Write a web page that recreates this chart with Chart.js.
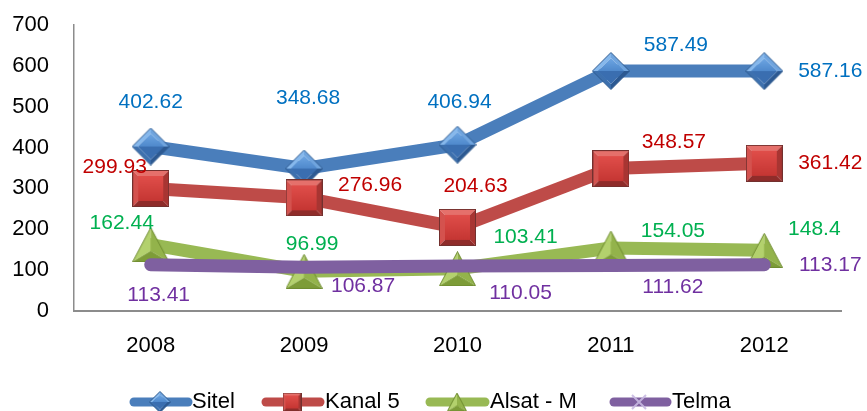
<!DOCTYPE html>
<html>
<head>
<meta charset="utf-8">
<style>
  html, body { margin: 0; padding: 0; background: #fff; }
  #wrap { width: 867px; height: 411px; }
</style>
<script src="https://cdn.jsdelivr.net/npm/chart.js@4/dist/chart.umd.min.js"></script>
</head>
<body>
<div id="wrap"><canvas id="chart" width="867" height="411"></canvas></div>
<script>
// data
const years = ['2008', '2009', '2010', '2011', '2012'];
const sitel = [402.62, 348.68, 406.94, 587.49, 587.16];
const kanal5 = [299.93, 276.96, 204.63, 348.57, 361.42];
const alsat = [162.44, 96.99, 103.41, 154.05, 148.4];
const telma = [113.41, 106.87, 110.05, 111.62, 113.17];
const seriesNames = ['Sitel', 'Kanal 5', 'Alsat - M', 'Telma'];
const yMin = 0, yMax = 700, yStep = 100;

const FONT = "'Liberation Sans', Arial, sans-serif";

// little helpers for the bevelled markers
function poly(g, pts, fill) {
  g.beginPath();
  g.moveTo(pts[0][0], pts[0][1]);
  for (let i = 1; i < pts.length; i++) g.lineTo(pts[i][0], pts[i][1]);
  g.closePath();
  g.fillStyle = fill;
  g.fill();
}

function makeDiamond(w, hgt) {
  const c = document.createElement('canvas');
  c.width = w; c.height = hgt;
  const g = c.getContext('2d');
  const cx = w / 2, cy = hgt / 2, b = w * 0.16, bv = hgt * 0.16;
  const T = [cx, 0.5], R = [w - 0.5, cy], B = [cx, hgt - 0.5], L = [0.5, cy];
  const t = [cx, bv], r = [w - b, cy], bb = [cx, hgt - bv], l = [b, cy];
  poly(g, [T, L, l, t], '#86b8ec');
  poly(g, [T, R, r, t], '#6fa4de');
  poly(g, [L, B, bb, l], '#3d70ae');
  poly(g, [R, B, bb, r], '#2c5992');
  const grd = g.createLinearGradient(0, bv, 0, cy);
  grd.addColorStop(0, '#6ea6e3');
  grd.addColorStop(1, '#4f89cc');
  poly(g, [t, r, l], grd);
  poly(g, [l, r, bb], '#3a6eb0');
  g.beginPath();
  g.moveTo(T[0], T[1]); g.lineTo(R[0], R[1]); g.lineTo(B[0], B[1]); g.lineTo(L[0], L[1]); g.closePath();
  g.strokeStyle = '#2f5b8f'; g.lineWidth = 1; g.stroke();
  return c;
}

function makeSquare(s) {
  const c = document.createElement('canvas');
  c.width = s; c.height = s;
  const g = c.getContext('2d');
  const b = Math.round(s * 0.17);
  poly(g, [[0, 0], [s, 0], [s - b, b], [b, b]], '#e5706b');
  poly(g, [[0, 0], [b, b], [b, s - b], [0, s]], '#d4524e');
  poly(g, [[s, 0], [s, s], [s - b, s - b], [s - b, b]], '#a83532');
  poly(g, [[0, s], [b, s - b], [s - b, s - b], [s, s]], '#8f2c2a');
  const grd = g.createLinearGradient(0, b, 0, s - b);
  grd.addColorStop(0, '#e04e4a');
  grd.addColorStop(1, '#c53633');
  g.fillStyle = grd;
  g.fillRect(b, b, s - 2 * b, s - 2 * b);
  g.strokeStyle = '#73302e'; g.lineWidth = 1;
  g.strokeRect(0.5, 0.5, s - 1, s - 1);
  return c;
}

function makeTriangle(w, hgt) {
  const c = document.createElement('canvas');
  c.width = w; c.height = hgt;
  const g = c.getContext('2d');
  const A = [w / 2, 0.5], Lp = [0.5, hgt - 0.5], Rp = [w - 0.5, hgt - 0.5], C = [w / 2, hgt * 0.68];
  poly(g, [A, Lp, C], '#b3d16d');
  poly(g, [A, Rp, C], '#93b34b');
  poly(g, [Lp, Rp, C], '#7d9c38');
  g.beginPath();
  g.moveTo(A[0], A[1]); g.lineTo(Rp[0], Rp[1]); g.lineTo(Lp[0], Lp[1]); g.closePath();
  g.strokeStyle = '#6f8c30'; g.lineWidth = 1; g.stroke();
  return c;
}

function makeCross(s) {
  const c = document.createElement('canvas');
  c.width = s; c.height = s;
  const g = c.getContext('2d');
  g.strokeStyle = 'rgba(200,185,225,0.9)'; g.lineWidth = 2;
  g.beginPath();
  g.moveTo(2, 2); g.lineTo(s - 2, s - 2);
  g.moveTo(s - 2, 2); g.lineTo(2, s - 2);
  g.stroke();
  return c;
}

const lineColors = ['#4a7ebb', '#be4b48', '#98b954', '#7f60a0'];
const labelColors = ['#0070c0', '#c00000', '#00b050', '#7030a0'];
const markers = [makeDiamond(38, 38), makeSquare(37), makeTriangle(37, 35), null];
const legendMarkers = [makeDiamond(22, 22), makeSquare(19), makeTriangle(20, 19), makeCross(18)];

// where each value label sits relative to its point (dx, dy)
const labelOffsets = [
  [[0, -44], [4, -70], [2, -43], [65, -26], [66, 0]],
  [[-36, -21], [66, -13], [18, -41], [63, -26], [66, 0]],
  [[-29, -21], [8, -27], [68, -32], [62, -17], [50, -21]],
  [[8, 31], [59, 19], [63, 27], [62, 22], [66, 0]]
];

const allSeries = [sitel, kanal5, alsat, telma];
const datasets = allSeries.map((vals, i) => ({
  label: seriesNames[i],
  data: vals,
  borderColor: lineColors[i],
  backgroundColor: lineColors[i],
  borderWidth: 13,
  borderCapStyle: 'round',
  borderJoinStyle: 'round',
  tension: 0,
  clip: false,
  pointStyle: markers[i] || 'circle',
  pointRadius: markers[i] ? 19 : 0,
  pointHoverRadius: markers[i] ? 19 : 0,
  order: 3 - i
}));

const valueLabels = {
  id: 'valueLabels',
  afterDatasetsDraw(chart) {
    const ctx = chart.ctx;
    ctx.save();
    ctx.font = '21px ' + FONT;
    ctx.textAlign = 'center';
    ctx.textBaseline = 'middle';
    chart.data.datasets.forEach((ds, i) => {
      const meta = chart.getDatasetMeta(i);
      meta.data.forEach((pt, j) => {
        const off = labelOffsets[i][j];
        ctx.fillStyle = labelColors[i];
        ctx.fillText(String(ds.data[j]), pt.x + off[0], pt.y + off[1]);
      });
    });
    ctx.restore();
  }
};

const lineLegend = {
  id: 'lineLegend',
  afterDraw(chart) {
    const ctx = chart.ctx;
    const y = 402;
    const items = [
      { x1: 134, x2: 188, mx: 160, tx: 192 },
      { x1: 266, x2: 320, mx: 292, tx: 325 },
      { x1: 430, x2: 485, mx: 457, tx: 490 },
      { x1: 614, x2: 667, mx: 639, tx: 672 }
    ];
    ctx.save();
    items.forEach((it, i) => {
      ctx.strokeStyle = lineColors[i];
      ctx.lineWidth = 9;
      ctx.lineCap = 'round';
      ctx.beginPath();
      ctx.moveTo(it.x1, y);
      ctx.lineTo(it.x2, y);
      ctx.stroke();
      const m = legendMarkers[i];
      ctx.drawImage(m, it.mx - m.width / 2, y - m.height / 2);
      ctx.fillStyle = '#000';
      ctx.font = '22px ' + FONT;
      ctx.textAlign = 'left';
      ctx.textBaseline = 'middle';
      ctx.fillText(seriesNames[i], it.tx, y);
    });
    ctx.restore();
  }
};

new Chart(document.getElementById('chart'), {
  type: 'line',
  data: { labels: years, datasets: datasets },
  options: {
    responsive: false,
    animation: false,
    events: [],
    layout: { autoPadding: false, padding: { top: 25, right: 26, left: 0, bottom: 0 } },
    plugins: {
      legend: { display: false },
      tooltip: { enabled: false }
    },
    scales: {
      x: {
        offset: true,
        grid: { display: true, drawOnChartArea: false, drawTicks: false },
        border: { color: '#8c8c8c', width: 2 },
        ticks: { color: '#000', padding: 22, font: { family: FONT, size: 22 } },
        afterFit(scale) { scale.height = 100; }
      },
      y: {
        min: yMin,
        max: yMax,
        grid: { display: true, drawOnChartArea: false, drawTicks: false },
        border: { color: '#8c8c8c', width: 1.5 },
        ticks: { stepSize: yStep, color: '#000', padding: 25, font: { family: FONT, size: 22 } },
        afterFit(scale) {
          scale.width = 74;
          scale.paddingTop = 0;
          scale.paddingBottom = 0;
        }
      }
    }
  },
  plugins: [valueLabels, lineLegend]
});
</script>
</body>
</html>
